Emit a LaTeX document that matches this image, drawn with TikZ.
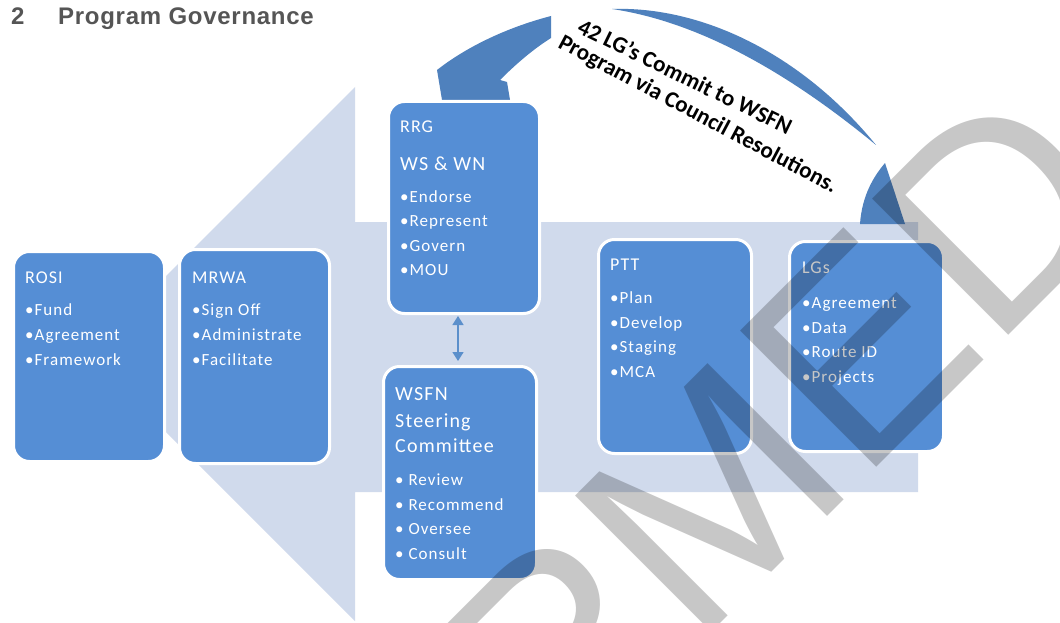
\documentclass[tikz,border=0pt]{standalone}
\usepackage{fontspec}
\setmainfont{Carlito}
\newfontfamily\boxfont[LetterSpace=6]{Carlito}
\newfontfamily\titlefont[LetterSpace=3]{Liberation Sans}
\newfontfamily\wmfont{Liberation Sans}
\usetikzlibrary{arrows.meta}
\definecolor{lightarrow}{HTML}{D0DAEC}
\definecolor{boxblue}{HTML}{558ED5}
\definecolor{arcblue}{HTML}{4F81BD}
\definecolor{linkblue}{HTML}{5B8FCB}
\definecolor{titlegray}{HTML}{555555}
\begin{document}
\begin{tikzpicture}[x=1pt,y=-1pt,
  govbox/.style={draw=white, line width=3pt, fill=boxblue, rounded corners=16pt, inner sep=0pt, anchor=north west},
  boxhead/.style={anchor=base west, inner sep=0pt, text=white, font=\boxfont\fontsize{18}{20}\selectfont},
  boxitem/.style={anchor=base west, inner sep=0pt, text=white, font=\boxfont\fontsize{17}{20}\selectfont},
  bighead/.style={boxhead, font=\boxfont\fontsize{20}{20}\selectfont},
  arctext/.style={anchor=base west, inner sep=0pt, text=black, font=\bfseries\fontsize{23}{23}\selectfont},
]
\useasboundingbox (0,0) rectangle (1060,623);
\fill[white] (0,0) rectangle (1060,623);

% big light arrow pointing left
\fill[lightarrow] (918,222) -- (355,222) -- (355,87) -- (88,354) -- (355,621) -- (355,492) -- (918,492) -- cycle;

% title
\node[anchor=base west, inner sep=0pt, text=titlegray, font=\titlefont\bfseries\fontsize{24}{24}\selectfont] (num) at (11,25) {2};
\node[anchor=base west, inner sep=0pt, text=titlegray, font=\titlefont\bfseries\fontsize{24}{24}\selectfont] (title) at (58,25) {Program Governance};

% curved arrow
\fill[arcblue] (551,16) .. controls (505,28) and (465,48) .. (437,70) -- (442,100) -- (510,100) -- (507,82) -- (500,80) .. controls (515,65) and (532,50) .. (551,38) -- cycle;
\fill[arcblue] (612,9) .. controls (700,6) and (800,52) .. (876,145) .. controls (790,74) and (700,22) .. (612,9) -- cycle;
\fill[arcblue] (860,224) .. controls (862,195) and (874,176) .. (885,163) -- (905,224) -- cycle;

\node[arctext, rotate=-26] (arcline1) at (576,32) {42 LG’s Commit to WSFN};
\node[arctext, rotate=-28] (arcline2) at (557,47) {Program via Council Resolutions.};

% boxes
\node[govbox, minimum width=151pt, minimum height=210pt] (rosi) at (12,250) {};
\node[govbox, minimum width=150pt, minimum height=214pt] (mrwa) at (178,248) {};
\node[govbox, minimum width=151pt, minimum height=212pt] (rrg) at (387,100) {};
\node[govbox, minimum width=153pt, minimum height=213pt] (wsfn) at (382,365) {};
\node[govbox, minimum width=153pt, minimum height=214pt] (ptt) at (597,238) {};
\node[govbox, minimum width=154pt, minimum height=210pt] (lgs) at (788,240) {};

% box texts
\node[boxhead] (rosi-t) at (25,283) {ROSI};
\node[boxitem] (rosi-1) at (25,315) {•Fund};
\node[boxitem] (rosi-2) at (25,340) {•Agreement};
\node[boxitem] (rosi-3) at (25,365) {•Framework};

\node[boxhead] (mrwa-t) at (192,283) {MRWA};
\node[boxitem] (mrwa-1) at (192,315) {•Sign Off};
\node[boxitem] (mrwa-2) at (192,340) {•Administrate};
\node[boxitem] (mrwa-3) at (192,365) {•Facilitate};

\node[boxhead] (rrg-t) at (400,132) {RRG};
\node[bighead] (rrg-s) at (400,170) {WS \& WN};
\node[boxitem] (rrg-1) at (400,202) {•Endorse};
\node[boxitem] (rrg-2) at (400,226) {•Represent};
\node[boxitem] (rrg-3) at (400,251) {•Govern};
\node[boxitem] (rrg-4) at (400,275) {•MOU};

\node[bighead] (wsfn-t1) at (395,400) {WSFN};
\node[bighead] (wsfn-t2) at (395,427) {Steering};
\node[bighead] (wsfn-t3) at (395,452) {Committee};
\node[boxitem] (wsfn-1) at (395,485) {• Review};
\node[boxitem] (wsfn-2) at (395,510) {• Recommend};
\node[boxitem] (wsfn-3) at (395,534) {• Oversee};
\node[boxitem] (wsfn-4) at (395,559) {• Consult};

\node[boxhead] (ptt-t) at (610,270) {PTT};
\node[boxitem] (ptt-1) at (610,303) {•Plan};
\node[boxitem] (ptt-2) at (610,328) {•Develop};
\node[boxitem] (ptt-3) at (610,352) {•Staging};
\node[boxitem] (ptt-4) at (610,377) {•MCA};

\node[boxhead] (lgs-t) at (802,273) {LGs};
\node[boxitem] (lgs-1) at (802,308) {•Agreement};
\node[boxitem] (lgs-2) at (802,333) {•Data};
\node[boxitem] (lgs-3) at (802,357) {•Route ID};
\node[boxitem] (lgs-4) at (802,382) {•Projects};

% double arrow RRG <-> WSFN
\coordinate (dtop) at (458,316);
\coordinate (dbot) at (458,361);
\draw[linkblue, line width=1.5pt, {Triangle[width=11pt,length=9pt]}-{Triangle[width=11pt,length=9pt]}] (dtop) -- (dbot);

% watermark
\node[rotate=45, anchor=base east, inner sep=0pt, text=black, text opacity=0.22, font=\wmfont\fontsize{280}{280}\selectfont] (wm) at (1136,208) {CONFIRMED};
\end{tikzpicture}
\end{document}
